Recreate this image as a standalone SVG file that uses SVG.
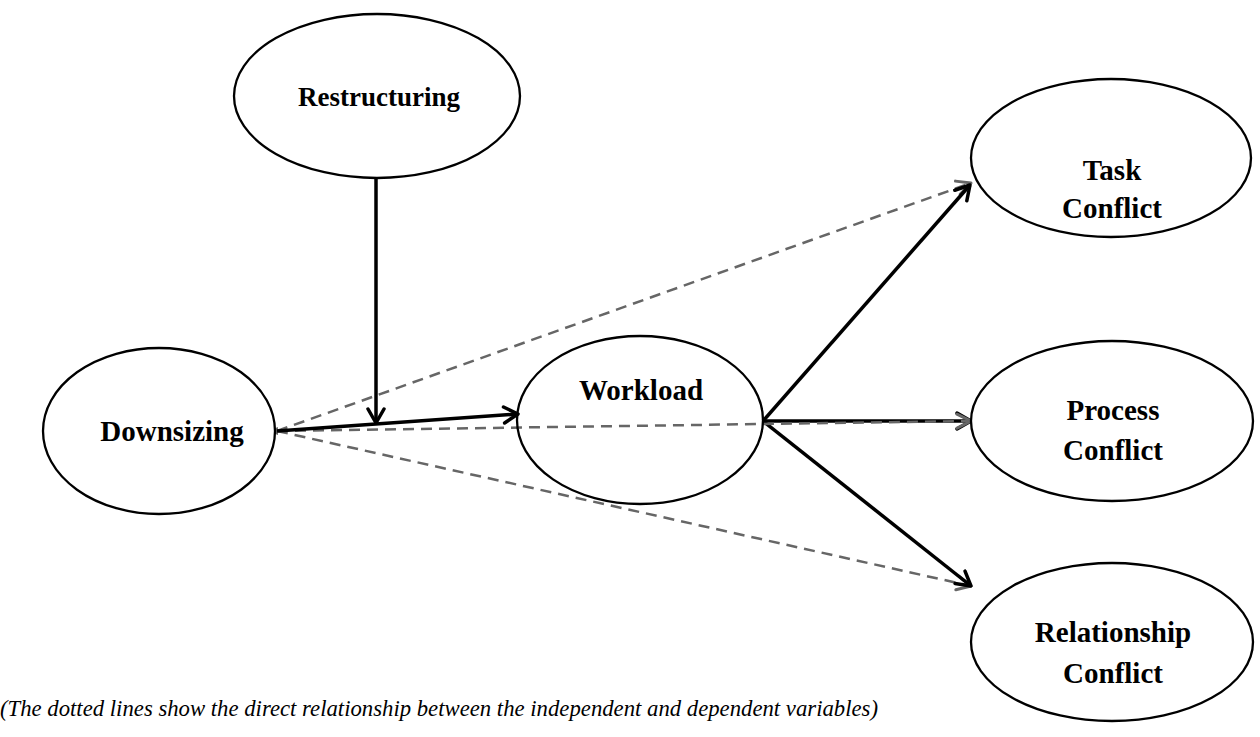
<svg xmlns="http://www.w3.org/2000/svg" width="1260" height="737" viewBox="0 0 1260 737">
<defs>
<style>
.node ellipse{fill:#fff;stroke:#000;stroke-width:2.3}
.lbl{font-family:"Liberation Serif","Times New Roman",serif;font-weight:bold;font-size:29px;fill:#000;text-anchor:middle}
.solid{stroke:#000;stroke-width:3.5;fill:none}
.dash{stroke:#666;stroke-width:2.5;fill:none;stroke-dasharray:11 7}
.cap{font-family:"Liberation Serif","Times New Roman",serif;font-style:italic;font-size:23px;fill:#000}
</style>
<marker id="ab" viewBox="0 0 20 20" refX="18" refY="10" markerWidth="20" markerHeight="20" markerUnits="userSpaceOnUse" orient="auto">
<path d="M4,2 L18,10 L4,18" fill="none" stroke="#000" stroke-width="3.5" stroke-linecap="round" stroke-linejoin="round"/>
</marker>
<marker id="ag" viewBox="0 0 20 20" refX="18" refY="10" markerWidth="20" markerHeight="20" markerUnits="userSpaceOnUse" orient="auto">
<path d="M4,3 L18,10 L4,17" fill="none" stroke="#666" stroke-width="3" stroke-linecap="round" stroke-linejoin="round"/>
</marker>
<marker id="gs" viewBox="0 0 10 10" refX="1" refY="5" markerWidth="10" markerHeight="10" markerUnits="userSpaceOnUse" orient="auto-start-reverse">
<path d="M10,5 L0,1 L0,9 Z" fill="#666"/>
</marker>
</defs>
<g id="connectors">
<line class="dash" x1="277" y1="431" x2="971" y2="183" marker-end="url(#ag)"/>
<line class="dash" x1="277" y1="431" x2="971" y2="586" marker-end="url(#ag)"/>
<line class="solid" x1="763" y1="421" x2="971" y2="421" marker-end="url(#ab)"/>
<line class="solid" x1="763" y1="421" x2="970" y2="185" marker-end="url(#ab)"/>
<line class="solid" x1="763" y1="421" x2="971" y2="586" marker-end="url(#ab)"/>
<line class="dash" x1="277" y1="431" x2="971" y2="421" marker-end="url(#ag)" marker-start="url(#gs)"/>
<line class="solid" x1="376" y1="178" x2="376" y2="423" marker-end="url(#ab)"/>
<line class="solid" x1="277" y1="431" x2="518" y2="414" marker-end="url(#ab)"/>
</g>
<g id="restructuring" class="node">
<ellipse cx="377" cy="96" rx="143" ry="82"/>
<text class="lbl" x="379" y="106" style="font-size:27px">Restructuring</text>
</g>
<g id="downsizing" class="node">
<ellipse cx="159" cy="431" rx="116" ry="83"/>
<text class="lbl" x="172" y="441">Downsizing</text>
</g>
<g id="workload" class="node">
<ellipse cx="640" cy="420" rx="123" ry="84" style="fill:none"/>
<text class="lbl" x="641" y="400">Workload</text>
</g>
<g id="task-conflict" class="node">
<ellipse cx="1111" cy="158" rx="140" ry="79"/>
<text class="lbl" x="1112" y="180">Task</text>
<text class="lbl" x="1112" y="218">Conflict</text>
</g>
<g id="process-conflict" class="node">
<ellipse cx="1112" cy="421" rx="141" ry="80"/>
<text class="lbl" x="1113" y="420">Process</text>
<text class="lbl" x="1113" y="460">Conflict</text>
</g>
<g id="relationship-conflict" class="node">
<ellipse cx="1112" cy="642" rx="141" ry="79"/>
<text class="lbl" x="1113" y="642">Relationship</text>
<text class="lbl" x="1113" y="683">Conflict</text>
</g>
<text class="cap" x="0" y="716" textLength="878" lengthAdjust="spacingAndGlyphs">(The dotted lines show the direct relationship between the independent and dependent variables)</text>
</svg>
